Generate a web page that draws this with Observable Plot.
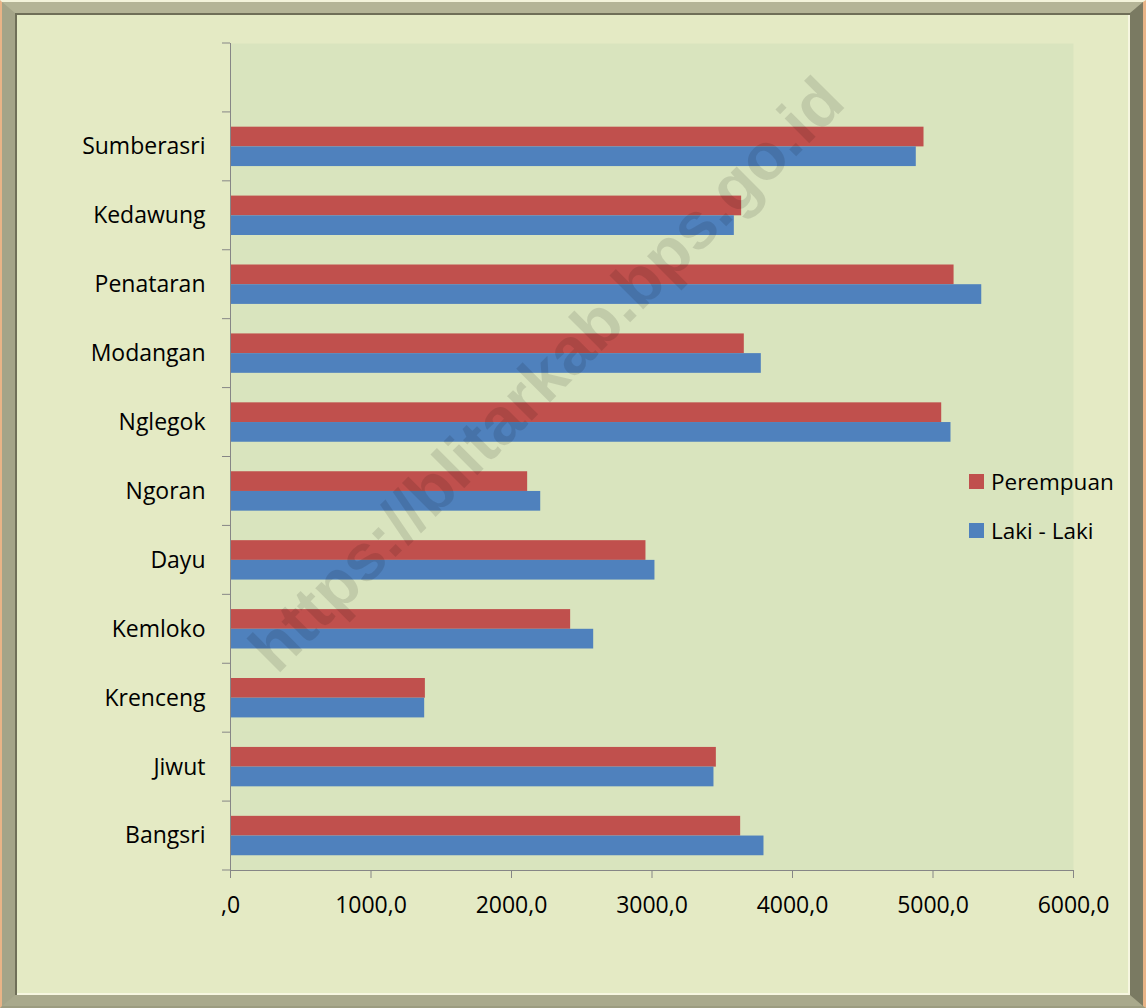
<!DOCTYPE html>
<html>
<head>
<meta charset="utf-8">
<script src="https://cdn.jsdelivr.net/npm/d3@7"></script>
<script src="https://cdn.jsdelivr.net/npm/@observablehq/plot@0.6"></script>
<style>
  html, body { margin: 0; padding: 0; background: #ffffff; }
  #wrap { position: relative; width: 1146px; height: 1008px; overflow: hidden; font-family: "Open Sans", sans-serif; }
  #frame { position: absolute; left: 0; top: 0; width: 1146px; height: 1008px; box-sizing: border-box;
    background: #e4eac4;
    border-left: 2px solid #e9b487; border-right: 3px solid #e9b487;
    border-top: 2px solid #f3f3da; border-bottom: 2px solid #9c9c80; }
  #bevel { position: absolute; left: 0; top: 0; right: 0; bottom: 0; box-sizing: border-box;
    border-style: solid; border-width: 11px 13px 11px 13px;
    border-color: #b4b496 #7a7a62 #a9a98c #a4a488;
    box-shadow: inset 2px 2px 0 #6f6f58, inset -2px -2px 0 #f6f6e0; }
  #chart { position: absolute; left: 0; top: 0; }
  #legend { position: absolute; left: 969px; top: 0; font-size: 22.5px; color: #000; }
  .item { position: absolute; left: 0; display: flex; align-items: center; white-space: nowrap; height: 30px; }
  .sw { width: 15px; height: 15px; margin-right: 7px; }
  #wm { position: absolute; left: 546px; top: 374px; transform: translate(-50%, -50%) rotate(-45deg);
    font-family: "Liberation Sans", Arial, sans-serif; font-weight: bold; font-size: 66px;
    color: rgba(0,0,0,0.11); white-space: nowrap; pointer-events: none; }
</style>
</head>
<body>
<div id="wrap">
  <div id="frame"><div id="bevel"></div></div>
  <div id="chart"></div>
  <div id="legend"></div>
  <div id="wm">https://blitarkab.bps.go.id</div>
</div>
<script>
// ---- data ----
const categories = [" ", "Sumberasri", "Kedawung", "Penataran", "Modangan", "Nglegok", "Ngoran", "Dayu", "Kemloko", "Krenceng", "Jiwut", "Bangsri"];
const villages = ["Sumberasri", "Kedawung", "Penataran", "Modangan", "Nglegok", "Ngoran", "Dayu", "Kemloko", "Krenceng", "Jiwut", "Bangsri"];
const perempuan = [4936, 3638, 5150, 3657, 5062, 2115, 2957, 2421, 1387, 3458, 3631];
const lakiLaki  = [4881, 3586, 5347, 3778, 5128, 2208, 3021, 2585, 1382, 3441, 3797];
const seriesNames = ["Perempuan", "Laki - Laki"];
const seriesColors = ["#c0504d", "#4f81bd"];
const xTicks = [0, 1000, 2000, 3000, 4000, 5000, 6000];
const xTickLabels = [",0", "1000,0", "2000,0", "3000,0", "4000,0", "5000,0", "6000,0"];

// ---- layout ----
const W = 1146, H = 1008;
const mT = 43, mB = 138, mL = 230, mR = 73;
const band = (H - mT - mB) / categories.length;
const barH = 19.7;
const gap = (band - 2 * barH) / 2;
const axisColor = "#868686";
const fontSize = 23;

const dataP = villages.map((v, i) => ({village: v, value: perempuan[i]}));
const dataL = villages.map((v, i) => ({village: v, value: lakiLaki[i]}));

const plot = Plot.plot({
  width: W, height: H,
  marginTop: mT, marginBottom: mB, marginLeft: mL, marginRight: mR,
  style: {background: "transparent", color: "#000", fontFamily: "'Open Sans', sans-serif", fontSize: fontSize + "px"},
  x: {domain: [0, 6000]},
  y: {type: "band", domain: categories, padding: 0, round: false},
  marks: [
    Plot.frame({fill: "#d9e4be", stroke: null}),
    Plot.barX(dataP, {x: "value", y: "village", fill: seriesColors[0], insetTop: gap, insetBottom: gap + barH}),
    Plot.barX(dataL, {x: "value", y: "village", fill: seriesColors[1], insetTop: gap + barH, insetBottom: gap}),
    Plot.frame({anchor: "left", stroke: axisColor}),
    Plot.frame({anchor: "bottom", stroke: axisColor}),
    Plot.axisY({tickSize: 0, tickPadding: 25, fontSize: fontSize, label: null, fill: "#000"}),
    Plot.axisX({ticks: xTicks, tickFormat: (d, i) => xTickLabels[xTicks.indexOf(d)], tickSize: 8, tickPadding: 18,
      fontSize: fontSize, stroke: axisColor, fill: "#000", label: null})
  ]
});

// band-boundary ticks on the category axis, from the plot's own y scale
const ys = plot.scale("y");
const starts = categories.map(c => ys.apply(c));
starts.push(ys.apply(categories[categories.length - 1]) + ys.bandwidth);
d3.select(plot).append("g")
  .attr("stroke", axisColor)
  .selectAll("line").data(starts).join("line")
  .attr("x1", mL - 8).attr("x2", mL)
  .attr("y1", d => d).attr("y2", d => d);

document.getElementById("chart").appendChild(plot);

// legend
const legend = d3.select("#legend");
const legendTops = [466, 515];
seriesNames.forEach((name, i) => {
  const it = legend.append("div").attr("class", "item").style("top", legendTops[i] + "px");
  it.append("div").attr("class", "sw").style("background", seriesColors[i]);
  it.append("span").text(name);
});
</script>
</body>
</html>
